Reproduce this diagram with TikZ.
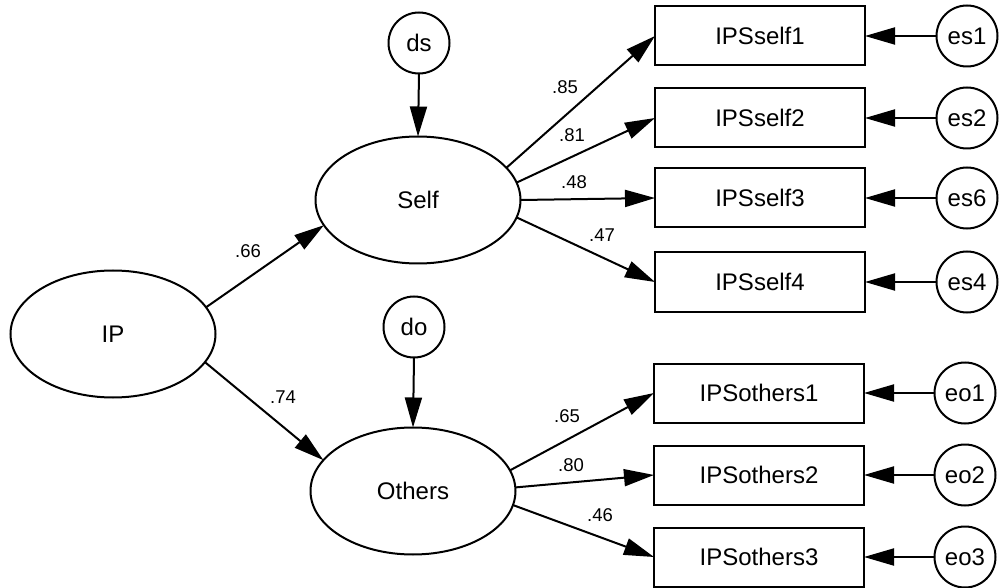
\documentclass[tikz,border=0pt]{standalone}
\usepackage{fontspec}
\setmainfont{Liberation Sans}
\usetikzlibrary{shapes.geometric,arrows.meta}
\begin{document}
\begin{tikzpicture}[x=1pt,y=-1pt,
  every node/.style={inner sep=0pt,outer sep=0pt},
  latent/.style={ellipse,draw,line width=2pt,minimum width=205pt,minimum height=127pt,font=\fontsize{24}{28}\selectfont},
  err/.style={circle,draw,line width=2pt,minimum size=61pt,font=\fontsize{24}{28}\selectfont},
  obs/.style={rectangle,draw,line width=2pt,minimum width=210pt,minimum height=59pt,font=\fontsize{24}{28}\selectfont},
  coef/.style={font=\fontsize{18.5}{22}\selectfont},
  path/.style={line width=2pt,-{Triangle[length=30pt,width=17pt]}}
]
\useasboundingbox (0,0) rectangle (999,588);
% latent variables
\node[latent] (IP) at (113,334) {IP};
\node[latent] (Self) at (418,200) {Self};
\node[latent] (Others) at (413,491) {Others};
% disturbances
\node[err] (ds) at (419,43) {ds};
\node[err] (do) at (414,327) {do};
% observed
\node[obs] (b1) at (760,36) {IPSself1};
\node[obs] (b2) at (760,118) {IPSself2};
\node[obs] (b3) at (760,198) {IPSself3};
\node[obs] (b4) at (760,282) {IPSself4};
\node[obs] (b5) at (759,393) {IPSothers1};
\node[obs] (b6) at (759,475) {IPSothers2};
\node[obs] (b7) at (759,557) {IPSothers3};
% errors
\node[err] (es1) at (967,36) {es1};
\node[err] (es2) at (967,118) {es2};
\node[err] (es6) at (967,198) {es6};
\node[err] (es4) at (967,282) {es4};
\node[err] (eo1) at (965,393) {eo1};
\node[err] (eo2) at (965,475) {eo2};
\node[err] (eo3) at (965,557) {eo3};
% structural paths
\draw[path] (IP.16) -- (Self.195);
\draw[path] (IP.-17) -- (Others.161);
\draw[path] (ds.south) -- (Self.north);
\draw[path] (do.south) -- (Others.north);
% loadings
\draw[path] (Self.20) -- (b1.west);
\draw[path] (Self.10) -- (b2.west);
\draw[path] (Self.east) -- (b3.west);
\draw[path] (Self.-10) -- (b4.west);
\draw[path] (Others.12) -- (b5.west);
\draw[path] (Others.2) -- (b6.west);
\draw[path] (Others.-8) -- (b7.west);
% error paths
\draw[path] (es1) -- (b1);
\draw[path] (es2) -- (b2);
\draw[path] (es6) -- (b3);
\draw[path] (es4) -- (b4);
\draw[path] (eo1) -- (b5);
\draw[path] (eo2) -- (b6);
\draw[path] (eo3) -- (b7);
% coefficients
\node[coef] (c66) at (248,251) {.66};
\node[coef] (c74) at (283,397) {.74};
\node[coef] (c85) at (565,87) {.85};
\node[coef] (c81) at (572,135) {.81};
\node[coef] (c48) at (574,182) {.48};
\node[coef] (c47) at (602,235) {.47};
\node[coef] (c65) at (567,416) {.65};
\node[coef] (c80) at (571,465) {.80};
\node[coef] (c46) at (600,515) {.46};
\end{tikzpicture}
\end{document}
